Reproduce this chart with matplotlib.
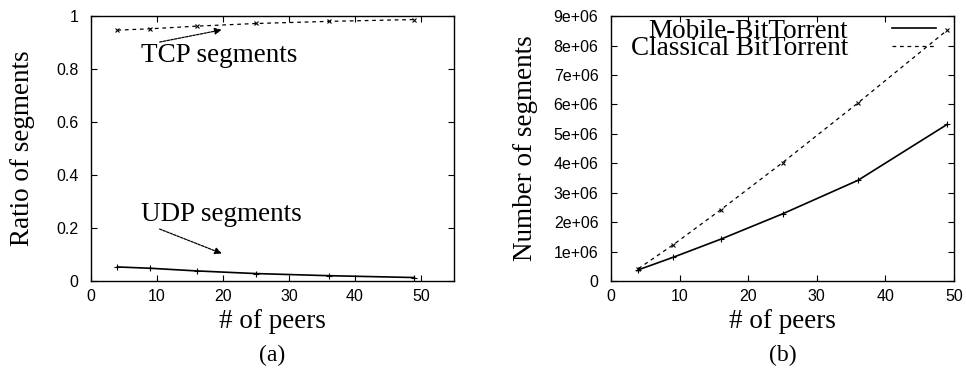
import matplotlib
matplotlib.use('Agg')
import matplotlib.pyplot as plt

peers = [4, 9, 16, 25, 36, 49]
tcp_ratio = [0.947, 0.952, 0.962, 0.972, 0.980, 0.987]
udp_ratio = [0.053, 0.048, 0.038, 0.028, 0.020, 0.013]
mobile_bt = [0.38e6, 0.80e6, 1.42e6, 2.28e6, 3.42e6, 5.32e6]
classic_bt = [0.42e6, 1.22e6, 2.42e6, 4.02e6, 6.05e6, 8.52e6]

ratio_ticks = [0, 0.2, 0.4, 0.6, 0.8, 1]
ratio_labels = ['0', '0.2', '0.4', '0.6', '0.8', '1']
seg_ticks = [i * 1e6 for i in range(10)]
seg_labels = ['0'] + ['%de+06' % i for i in range(1, 10)]
x_ticks = [0, 10, 20, 30, 40, 50]

serif = 'Liberation Serif'
sans = 'Liberation Sans'
big = 19.5

fig = plt.figure(figsize=(9.66, 3.74), dpi=100)
ax1 = fig.add_axes([0.0942, 0.2487, 0.3758, 0.7083])
ax2 = fig.add_axes([0.6325, 0.2487, 0.3551, 0.7083])

dash = (0, (3, 3))

# (a) ratio of segments
ax1.plot(peers, tcp_ratio, color='black', lw=0.9, linestyle=dash,
         marker='x', ms=3, mew=0.8)
ax1.plot(peers, udp_ratio, color='black', lw=1.2,
         marker='+', ms=4, mew=0.8)
ax1.set_xlim(0, 55)
ax1.set_ylim(0, 1)
ax1.set_yticks(ratio_ticks)
ax1.set_yticklabels(ratio_labels)
ax1.set_ylabel('Ratio of segments', fontsize=big, family=serif)
ax1.yaxis.set_label_coords(-0.154, 0.5)

ax1.text(7.6, 0.85, 'TCP segments', fontsize=big, family=serif, va='center')
ax1.annotate('', xy=(20.2, 0.95), xytext=(10, 0.9),
             arrowprops=dict(arrowstyle='-|>', linestyle=(0, (2, 1)),
                             color='black', lw=0.9, mutation_scale=10))
ax1.text(7.6, 0.25, 'UDP segments', fontsize=big, family=serif, va='center')
ax1.annotate('', xy=(20.2, 0.1), xytext=(10, 0.2),
             arrowprops=dict(arrowstyle='-|>', linestyle=(0, (2, 1)),
                             color='black', lw=0.9, mutation_scale=10))

# (b) number of segments
ax2.plot(peers, mobile_bt, color='black', lw=1.2,
         marker='+', ms=4, mew=0.8, label='Mobile-BitTorrent')
ax2.plot(peers, classic_bt, color='black', lw=0.9, linestyle=dash,
         marker='x', ms=3, mew=0.8, label='Classical BitTorrent')
ax2.set_xlim(0, 50)
ax2.set_ylim(0, 9e6)
ax2.set_yticks(seg_ticks)
ax2.set_yticklabels(seg_labels)
ax2.set_ylabel('Number of segments', fontsize=big, family=serif)
ax2.yaxis.set_label_coords(-0.213, 0.5)

leg = ax2.legend(loc='upper right', bbox_to_anchor=(0.98, 1.03),
                 markerfirst=False, frameon=False,
                 prop={'family': serif, 'size': big}, labelspacing=-0.28,
                 handlelength=1.65, handletextpad=1.6, borderaxespad=0.3,
                 borderpad=0.1)
for h in leg.legend_handles:
    h.set_marker('')

for ax, lab in ((ax1, '(a)'), (ax2, '(b)')):
    ax.set_xticks(x_ticks)
    ax.set_xlabel('# of peers', fontsize=big, family=serif)
    ax.xaxis.set_label_coords(0.5, -0.106)
    ax.tick_params(direction='in', top=True, right=True, length=4,
                   width=0.8, labelsize=11.5)
    ax.tick_params(axis='y', pad=9)
    ax.tick_params(axis='x', pad=6)
    for t in ax.get_xticklabels() + ax.get_yticklabels():
        t.set_family(sans)
    for s in ax.spines.values():
        s.set_linewidth(1.0)
    ax.text(0.5, -0.28, lab, transform=ax.transAxes, ha='center',
            va='center', fontsize=17, family=serif)

plt.savefig('out.png', dpi=100)
